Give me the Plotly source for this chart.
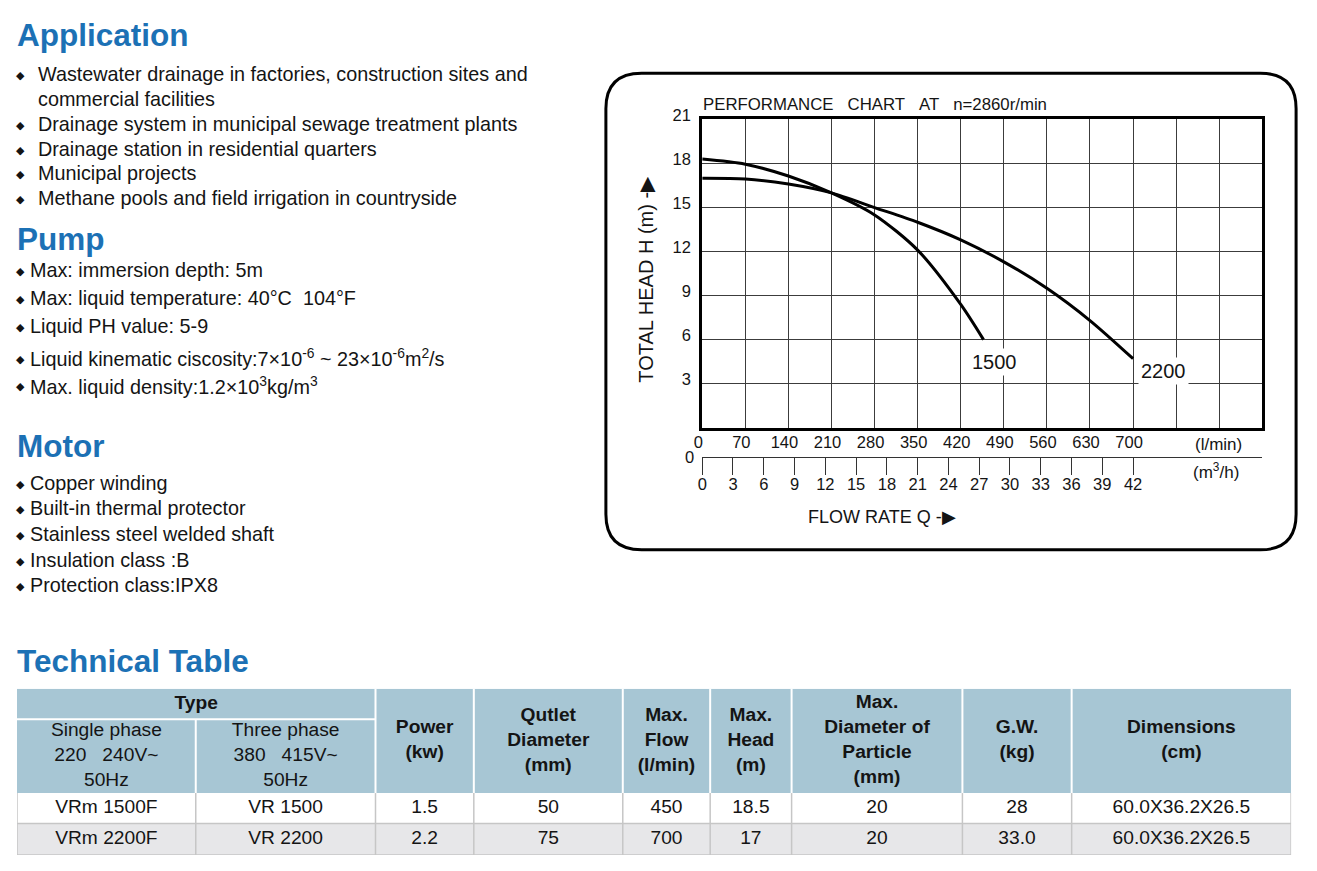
import plotly.graph_objects as go

# page is 1317x871 with the browser's default 8px body margin
OFF = 8
FW, FH = 1301, 854


def X(px):
    return (px - OFF) / FW


def Y(py):
    return 1 - (py - OFF) / FH


NB = "\u00a0"

# ---------------- data ----------------
flow_1500 = [0, 70, 140, 210, 280, 350, 420, 457]
head_1500 = [18.3, 17.95, 17.15, 16.0, 14.5, 12.1, 8.4, 6.0]
flow_2200 = [0, 70, 140, 210, 280, 350, 420, 490, 560, 630, 700]
head_2200 = [17.0, 16.95, 16.6, 16.0, 15.0, 14.0, 12.8, 11.3, 9.5, 7.3, 4.7]
curve_names = ["1500", "2200"]

lmin_ticks = [0, 70, 140, 210, 280, 350, 420, 490, 560, 630, 700]
m3h_ticks = [0, 3, 6, 9, 12, 15, 18, 21, 24, 27, 30, 33, 36, 39, 42]
head_ticks = [3, 6, 9, 12, 15, 18, 21]
speed_rpm = 2860

application_items = [
    ["Wastewater drainage in factories, construction sites and", "commercial facilities"],
    ["Drainage system in municipal sewage treatment plants"],
    ["Drainage station in residential quarters"],
    ["Municipal projects"],
    ["Methane pools and field irrigation in countryside"],
]
pump_items = [
    "Max: immersion depth: 5m",
    "Max: liquid temperature: 40°C" + NB * 2 + "104°F",
    "Liquid PH value: 5-9",
    "Liquid kinematic ciscosity:7×10<sup>-6</sup> ~ 23×10<sup>-6</sup>m<sup>2</sup>/s",
    "Max. liquid density:1.2×10<sup>3</sup>kg/m<sup>3</sup>",
]
motor_items = [
    "Copper winding",
    "Built-in thermal protector",
    "Stainless steel welded shaft",
    "Insulation class :B",
    "Protection class:IPX8",
]

type_header = "Type"
single_header = "Single phase<br>220" + NB * 3 + "240V~<br>50Hz"
three_header = "Three phase<br>380" + NB * 3 + "415V~<br>50Hz"
col_headers = [
    "Power<br>(kw)",
    "Qutlet<br>Diameter<br>(mm)",
    "Max.<br>Flow<br>(l/min)",
    "Max.<br>Head<br>(m)",
    "Max.<br>Diameter of<br>Particle<br>(mm)",
    "G.W.<br>(kg)",
    "Dimensions<br>(cm)",
]
single_phase_models = ["VRm 1500F", "VRm 2200F"]
three_phase_models = ["VR 1500", "VR 2200"]
power_kw = ["1.5", "2.2"]
outlet_mm = ["50", "75"]
max_flow_lmin = ["450", "700"]
max_head_m = ["18.5", "17"]
particle_mm = ["20", "20"]
gw_kg = ["28", "33.0"]
dimensions_cm = ["60.0X36.2X26.5", "60.0X36.2X26.5"]

# ---------------- style ----------------
FONT = "Liberation Sans, Arial, Helvetica, sans-serif"
BLUE = "#1c71b5"
TXT = "#141414"
HEAD_FILL = "#a7c6d4"
ROW2_FILL = "#e7e7e9"
BODY_LINE = "#c6c6c6"
GRID = "#3c3c3c"

Q_MAX = 910          # chart extent in l/min (13 grid cells)
LMIN_TO_M3H = 0.06   # 1 l/min = 0.06 m3/h

fig = go.Figure()

# ---------------- performance chart ----------------
fig.add_trace(go.Scatter(x=flow_1500, y=head_1500, mode="lines",
                         line=dict(color="black", width=3, shape="spline", smoothing=0.8),
                         hoverinfo="skip", xaxis="x", yaxis="y"))
# 2200 curve drawn against the m3/h scale (same physical positions)
fig.add_trace(go.Scatter(x=[q * LMIN_TO_M3H for q in flow_2200], y=head_2200, mode="lines",
                         line=dict(color="black", width=3, shape="spline", smoothing=0.8),
                         hoverinfo="skip", xaxis="x2", yaxis="y"))

annotations = []
shapes = []


def ann(x, y, text, size, xanchor="center", yanchor="middle", **kw):
    d = dict(x=x, y=y, xref="paper", yref="paper", text=text, showarrow=False,
             xanchor=xanchor, yanchor=yanchor, font=dict(family=FONT, size=size, color=TXT))
    d.update(kw)
    annotations.append(d)


# curve end labels
for name, fx, hy, dx, dy in [(curve_names[0], flow_1500[-1], head_1500[-1], 11, -22),
                             (curve_names[1], flow_2200[-1], head_2200[-1], 30, -12)]:
    annotations.append(dict(x=fx, y=hy, xref="x", yref="y", text=name, showarrow=False,
                            xanchor="center", yanchor="middle",
                            xshift=dx, yshift=dy, bgcolor="white", borderpad=2,
                            font=dict(family=FONT, size=20, color=TXT)))

# chart title
ann(X(697), Y(93), "PERFORMANCE" + NB * 3 + "CHART" + NB * 3 + "AT" + NB * 3 + f"n={speed_rpm}r/min",
    16.8, xanchor="left")
# axis titles
ann(X(641), Y(270), "TOTAL HEAD H (m) -▶", 20, textangle=-90)
ann(X(802), Y(512), "FLOW RATE Q -▶", 18, xanchor="left")
# units
ann(X(1218), Y(438), "(l/min)", 17)
ann(X(1215), Y(465), "(m<sup>3</sup>/h)", 17)
# zero label of head axis
ann(X(685), Y(451), "0", 16.5)

# rounded frame around chart
fx0, fx1, fy0, fy1, r = 601, 1296, 61, 545, 36


def P(px, py):
    return f"{X(px):.5f},{Y(py):.5f}"


path = (f"M {P(fx0 + r, fy0)} L {P(fx1 - r, fy0)} Q {P(fx1, fy0)} {P(fx1, fy0 + r)} "
        f"L {P(fx1, fy1 - r)} Q {P(fx1, fy1)} {P(fx1 - r, fy1)} "
        f"L {P(fx0 + r, fy1)} Q {P(fx0, fy1)} {P(fx0, fy1 - r)} "
        f"L {P(fx0, fy0 + r)} Q {P(fx0, fy0)} {P(fx0 + r, fy0)} Z")
shapes.append(dict(type="path", path=path, xref="paper", yref="paper",
                   line=dict(color="black", width=3)))

# ---------------- left text column ----------------
def heading(text, y):
    ann(X(7), Y(y), f"<b>{text}</b>", 31.5, xanchor="left", borderpad=0,
        font=dict(family=FONT, size=31.5, color=BLUE))


def bullet(text, y, xd, xt, diamond=True):
    if diamond:
        ann(X(xd), Y(y + 1.5), "◆", 11, font=dict(family="DejaVu Sans", size=11, color=TXT))
    ann(X(xt), Y(y), text, 19.8, xanchor="left")


heading("Application", 22)
y = 62
for item in application_items:
    for k, line in enumerate(item):
        bullet(line, y, 12, 27, diamond=(k == 0))
        y += 25.2

heading("Pump", 229)
for line, yy in zip(pump_items, [261, 289, 318, 350, 378]):
    bullet(line, yy, 12, 19)

heading("Motor", 440)
for i, line in enumerate(motor_items):
    bullet(line, 477 + 26 * i, 12, 19)

heading("Technical Table", 658)

# ---------------- technical table (own axes) ----------------
col_edges = [0, 180, 361, 460, 610, 698, 780, 952, 1062, 1283]
row_edges = [0, 31, 106, 137, 169]
TW, TH = col_edges[-1], row_edges[-1]


def cx(i, j=None):
    j = i + 1 if j is None else j
    return (col_edges[i] + col_edges[j]) / 2


def tshape(**kw):
    kw.update(xref="x3", yref="y3")
    shapes.append(kw)


tshape(type="rect", x0=0, x1=TW, y0=0, y1=row_edges[2], fillcolor=HEAD_FILL, line=dict(width=0), layer="below")
tshape(type="rect", x0=0, x1=TW, y0=row_edges[3], y1=row_edges[4], fillcolor=ROW2_FILL, line=dict(width=0), layer="below")
for e in col_edges[2:-1]:
    tshape(type="line", x0=e, x1=e, y0=0, y1=row_edges[2], line=dict(color="white", width=2))
tshape(type="line", x0=col_edges[1], x1=col_edges[1], y0=row_edges[1], y1=row_edges[2], line=dict(color="white", width=2))
tshape(type="line", x0=0, x1=col_edges[2], y0=row_edges[1], y1=row_edges[1], line=dict(color="white", width=2))
for e in col_edges:
    tshape(type="line", x0=e, x1=e, y0=row_edges[2], y1=row_edges[4], line=dict(color=BODY_LINE, width=1.5))
for rr in row_edges[3:]:
    tshape(type="line", x0=0, x1=TW, y0=rr, y1=rr, line=dict(color=BODY_LINE, width=1.5))

TFS = 19.2
hx = [cx(0, 2), cx(0), cx(1)] + [cx(i) for i in range(2, 9)]
hy = [(row_edges[0] + row_edges[1]) / 2] + [(row_edges[1] + row_edges[2]) / 2] * 2 + \
     [(row_edges[0] + row_edges[2]) / 2] * 7
ht = [f"<b>{type_header}</b>", single_header, three_header] + [f"<b>{h}</b>" for h in col_headers]
fig.add_trace(go.Scatter(x=hx, y=hy, text=ht, mode="text", textposition="middle center",
                         textfont=dict(family=FONT, size=TFS, color=TXT), hoverinfo="skip",
                         xaxis="x3", yaxis="y3", cliponaxis=False))

columns = [single_phase_models, three_phase_models, power_kw, outlet_mm, max_flow_lmin,
           max_head_m, particle_mm, gw_kg, dimensions_cm]
bx, by, bt = [], [], []
for ci, col in enumerate(columns):
    for ri, val in enumerate(col):
        bx.append(cx(ci))
        by.append((row_edges[2 + ri] + row_edges[3 + ri]) / 2)
        bt.append(str(val))
fig.add_trace(go.Scatter(x=bx, y=by, text=bt, mode="text", textposition="middle center",
                         textfont=dict(family=FONT, size=TFS, color=TXT), hoverinfo="skip",
                         xaxis="x3", yaxis="y3", cliponaxis=False))

# ---------------- layout ----------------
tickfont = dict(family=FONT, size=16.5, color=TXT)
fig.update_layout(
    width=FW, height=FH, margin=dict(l=0, r=0, t=0, b=0), autosize=False,
    paper_bgcolor="white", plot_bgcolor="white", showlegend=False,
    xaxis=dict(domain=[X(698), X(1262)], range=[0, Q_MAX], tickvals=lmin_ticks,
               ticktext=[str(v) for v in lmin_ticks], showgrid=True, gridcolor=GRID, gridwidth=1.2,
               minor=dict(dtick=70, tick0=0, showgrid=True, gridcolor=GRID, gridwidth=1.2),
               showline=True, mirror=True, linecolor="black", linewidth=3, zeroline=False,
               ticks="", tickfont=tickfont, ticklabelshift=-4, ticklabelstandoff=-3, fixedrange=True),
    yaxis=dict(domain=[Y(421), Y(108)], range=[0, 21], tickvals=head_ticks,
               ticktext=[str(v) for v in head_ticks], showgrid=True, gridcolor=GRID, gridwidth=1.2,
               minor=dict(dtick=3, tick0=0, showgrid=True, gridcolor=GRID, gridwidth=1.2),
               showline=True, mirror=True, linecolor="black", linewidth=3, zeroline=False,
               ticks="outside", ticklen=5, tickcolor="rgba(0,0,0,0)", tickfont=tickfont,
               ticklabelshift=-4, fixedrange=True),
    xaxis2=dict(overlaying="x", anchor="free", position=Y(451), side="bottom",
                range=[0, Q_MAX * LMIN_TO_M3H], tickvals=m3h_ticks, ticktext=[str(v) for v in m3h_ticks],
                showgrid=False, zeroline=False, showline=True, linecolor="#333", linewidth=1,
                ticks="outside", ticklen=17, tickwidth=1, tickcolor="#333", tickfont=tickfont,
                ticklabelstandoff=-5, fixedrange=True),
    xaxis3=dict(domain=[X(8), X(1291)], range=[0, TW], visible=False, fixedrange=True),
    yaxis3=dict(domain=[Y(855), Y(686)], range=[TH, 0], visible=False, fixedrange=True),
    annotations=annotations,
    shapes=shapes,
)

fig.write_html("out.html", config={"displayModeBar": False})
